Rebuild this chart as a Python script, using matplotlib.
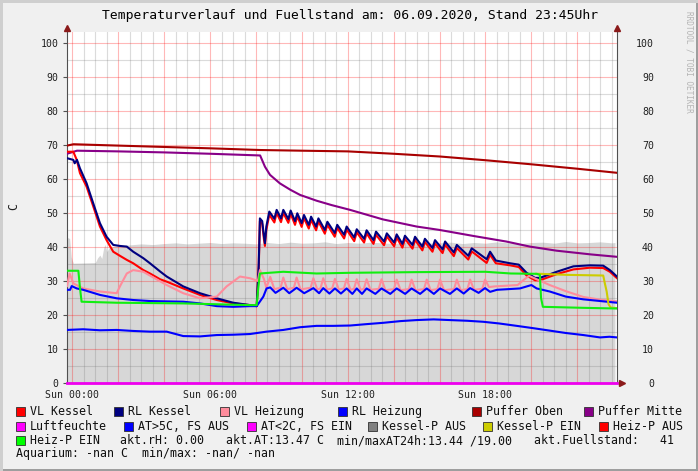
import matplotlib
matplotlib.use("Agg")
import matplotlib.pyplot as plt
from matplotlib.patches import Rectangle
from matplotlib.ticker import MultipleLocator, FuncFormatter

# ---------------- data (hours since Sun 00:00, value) ----------------
puffer_oben = [(-0.235, 69.8), (0.05, 70.2), (1.0, 70.0), (2.0, 69.8), (4.0, 69.4), (6.0, 69.0),
               (8.2, 68.5), (10.0, 68.3), (12.0, 68.1), (14.0, 67.4), (16.0, 66.6), (18.0, 65.5),
               (20.0, 64.3), (22.0, 63.0), (23.73, 61.8)]

puffer_mitte = [(-0.235, 67.4), (0.2, 68.3), (2.0, 68.1), (4.0, 67.8), (6.0, 67.4), (8.18, 66.9),
                (8.39, 63.6), (8.61, 61.2), (9.04, 58.7), (9.5, 56.8), (9.92, 55.3), (10.64, 53.6),
                (11.3, 52.3), (12.1, 50.9), (13.53, 48.1), (15.0, 46.0), (16.0, 45.0), (17.5, 43.2),
                (18.9, 41.6), (19.94, 40.1), (21.1, 38.9), (22.6, 37.8), (23.73, 37.1)]

vl_kessel = [(-0.235, 68.0), (0.04, 68.0), (0.19, 65.6), (0.33, 61.7), (0.62, 57.7), (0.91, 51.9),
             (1.20, 46.0), (1.49, 42.0), (1.78, 38.6), (2.07, 37.4), (2.37, 36.2), (2.65, 35.2),
             (3.09, 33.2), (3.38, 32.2), (3.82, 30.5), (4.11, 29.8), (4.83, 27.8), (5.56, 25.9),
             (6.29, 24.4), (7.01, 23.4), (7.74, 22.9), (8.03, 22.6),
             (8.12, 34.0), (8.17, 47.6), (8.27, 46.8), (8.35, 42.0), (8.39, 40.3), (8.45, 45.0),
             (8.58, 49.5), (8.80, 47.2), (8.90, 50.0), (9.09, 47.3), (9.19, 50.0), (9.41, 47.1),
             (9.51, 49.8), (9.70, 46.5), (9.80, 49.0), (9.99, 45.9), (10.09, 48.5), (10.30, 45.4),
             (10.40, 48.0), (10.62, 44.9), (10.72, 47.5), (11.00, 43.9), (11.11, 46.5), (11.43, 43.0),
             (11.54, 45.6), (11.84, 42.5), (11.95, 45.1), (12.28, 41.7), (12.39, 44.3), (12.71, 41.3),
             (12.82, 44.0), (13.12, 40.9), (13.23, 43.6), (13.58, 40.5), (13.70, 43.1), (14.02, 40.2),
             (14.13, 42.8), (14.38, 39.8), (14.49, 42.4), (14.82, 39.5), (14.93, 42.1), (15.25, 39.0),
             (15.36, 41.5), (15.69, 38.6), (15.80, 41.1), (16.13, 38.2), (16.24, 40.7), (16.62, 37.3),
             (16.75, 39.7), (17.25, 36.3), (17.40, 38.7), (18.05, 35.3), (18.20, 37.7),
             (18.45, 35.2), (19.07, 34.6), (19.45, 34.1), (19.79, 31.6), (20.16, 30.2), (20.37, 30.2),
             (21.10, 32.0), (21.83, 33.4), (22.55, 33.9), (23.13, 33.8), (23.42, 32.7), (23.73, 30.8)]

rl_kessel = [(-0.235, 66.1), (0.04, 65.6), (0.10, 64.6), (0.20, 65.6), (0.33, 63.1), (0.62, 58.7),
             (0.91, 52.8), (1.20, 47.0), (1.49, 43.0), (1.78, 40.6), (2.07, 40.3), (2.37, 40.1),
             (2.65, 38.6), (3.09, 36.7), (3.38, 35.2), (3.82, 32.8), (4.11, 31.3), (4.83, 28.4),
             (5.56, 26.4), (6.29, 24.9), (7.01, 23.6), (7.74, 22.9), (8.03, 22.6),
             (8.12, 35.0), (8.17, 48.4), (8.27, 47.6), (8.35, 43.0), (8.39, 41.1), (8.45, 46.0),
             (8.58, 50.4), (8.80, 48.3), (8.90, 50.9), (9.09, 48.4), (9.19, 50.9), (9.41, 48.2),
             (9.51, 50.7), (9.70, 47.6), (9.80, 49.9), (9.99, 47.0), (10.09, 49.4), (10.30, 46.5),
             (10.40, 48.9), (10.62, 46.0), (10.72, 48.4), (11.00, 45.0), (11.11, 47.4), (11.43, 44.1),
             (11.54, 46.5), (11.84, 43.6), (11.95, 46.0), (12.28, 42.8), (12.39, 45.2), (12.71, 42.4),
             (12.82, 44.9), (13.12, 42.0), (13.23, 44.5), (13.58, 41.6), (13.70, 44.0), (14.02, 41.3),
             (14.13, 43.7), (14.38, 40.9), (14.49, 43.3), (14.82, 40.6), (14.93, 43.0), (15.25, 40.1),
             (15.36, 42.4), (15.69, 39.7), (15.80, 42.0), (16.13, 39.3), (16.24, 41.6), (16.62, 38.4),
             (16.75, 40.6), (17.25, 37.4), (17.40, 39.6), (18.05, 36.4), (18.20, 38.6),
             (18.45, 36.0), (19.07, 35.2), (19.45, 34.8), (19.79, 32.4), (20.16, 30.9), (20.37, 30.9),
             (21.10, 32.7), (21.83, 34.3), (22.55, 34.6), (23.13, 34.5), (23.42, 33.2), (23.73, 31.3)]

vl_heizung = [(-0.235, 28.5), (-0.12, 32.2), (0.04, 29.3), (0.47, 27.8), (1.20, 26.9), (1.93, 26.4),
              (2.07, 28.4), (2.37, 32.2), (2.65, 33.2), (3.09, 32.7), (4.11, 28.8), (4.83, 26.4),
              (5.56, 24.9), (6.29, 25.4), (6.72, 28.4), (7.30, 31.3), (7.74, 30.8), (7.96, 30.3),
              (8.08, 30.0), (8.17, 33.2), (8.35, 30.5), (8.45, 28.0), (8.62, 31.2), (8.80, 27.6),
              (9.07, 28.0), (9.19, 31.0), (9.36, 27.6), (9.65, 28.0), (9.77, 31.0), (9.94, 27.5),
              (10.38, 28.0), (10.50, 30.8), (10.67, 27.5), (10.81, 27.8), (10.93, 30.8), (11.10, 27.5),
              (11.32, 27.8), (11.44, 30.6), (11.61, 27.5), (11.83, 27.8), (11.95, 30.6), (12.12, 27.4),
              (12.27, 27.7), (12.39, 30.5), (12.56, 27.4), (12.70, 27.7), (12.82, 30.5), (12.99, 27.4),
              (13.35, 27.7), (13.47, 30.5), (13.64, 27.3), (14.01, 27.6), (14.13, 30.4), (14.30, 27.3),
              (14.66, 27.6), (14.78, 30.4), (14.95, 27.3), (15.32, 27.6), (15.44, 30.4), (15.61, 27.3),
              (15.90, 27.6), (16.02, 30.4), (16.19, 27.3), (16.63, 27.6), (16.75, 30.4), (16.92, 27.3),
              (17.21, 27.6), (17.33, 30.4), (17.50, 27.4), (17.86, 27.7), (17.98, 30.4), (18.15, 28.2),
              (18.40, 28.4), (19.40, 28.8), (19.70, 30.5), (19.90, 31.5), (20.23, 30.5), (20.80, 28.8),
              (21.50, 27.0), (22.26, 25.3), (23.00, 24.5), (23.73, 24.0)]

rl_heizung = [(-0.235, 27.4), (-0.10, 27.4), (-0.03, 28.5), (0.19, 27.8), (0.47, 27.4), (1.20, 25.9),
              (1.93, 24.9), (2.65, 24.4), (3.38, 24.1), (4.83, 23.9), (5.56, 23.4), (6.29, 22.6),
              (7.01, 22.4), (7.74, 22.6), (8.03, 22.6), (8.32, 25.4), (8.46, 27.8), (8.62, 28.1),
              (8.85, 26.5), (9.19, 28.0), (9.45, 26.4), (9.77, 28.0), (10.10, 26.4), (10.50, 27.9),
              (10.75, 26.4), (10.93, 27.9), (11.20, 26.3), (11.44, 27.8), (11.70, 26.3), (11.95, 27.8),
              (12.20, 26.2), (12.39, 27.8), (12.62, 26.2), (12.82, 27.8), (13.20, 26.2), (13.47, 27.8),
              (13.85, 26.2), (14.13, 27.8), (14.50, 26.2), (14.78, 27.8), (15.15, 26.2), (15.44, 27.8),
              (15.75, 26.2), (16.02, 27.8), (16.45, 26.2), (16.75, 27.8), (17.05, 26.3), (17.33, 27.9),
              (17.70, 26.5), (17.98, 27.9), (18.20, 26.8), (18.50, 27.4), (19.50, 27.8), (20.00, 28.8),
              (20.23, 27.8), (20.80, 26.9), (21.50, 25.4), (22.26, 24.6), (23.00, 24.1), (23.73, 23.6)]

aussentemp = [(-0.235, 15.6), (0.47, 15.8), (1.2, 15.5), (1.93, 15.6), (2.65, 15.3), (3.38, 15.1),
              (4.11, 15.1), (4.83, 13.8), (5.56, 13.7), (6.29, 14.1), (7.01, 14.2), (7.74, 14.4),
              (8.46, 15.1), (9.19, 15.6), (9.92, 16.4), (10.64, 16.8), (11.37, 16.8), (12.10, 16.9),
              (12.8, 17.3), (13.55, 17.7), (14.3, 18.2), (15.0, 18.5), (15.74, 18.7), (16.45, 18.5),
              (17.2, 18.3), (17.90, 18.0), (18.6, 17.5), (19.36, 16.8), (20.1, 16.1), (20.80, 15.4),
              (21.5, 14.7), (22.26, 14.1), (22.99, 13.4), (23.4, 13.6), (23.73, 13.4)]

heizp_ein = [(-0.235, 33.0), (0.26, 33.0), (0.33, 28.0), (0.40, 23.9), (1.93, 23.6), (4.83, 23.4),
             (7.74, 22.9), (8.03, 22.9), (8.10, 28.0), (8.17, 32.2), (9.19, 32.7), (10.64, 32.2),
             (12.10, 32.4), (15.0, 32.6), (18.0, 32.7), (19.1, 32.2), (20.23, 32.1), (20.37, 31.8),
             (20.42, 25.0), (20.50, 22.4), (22.26, 22.1), (23.73, 21.9)]

kesselp_ein = [(20.2, 32.1), (20.37, 32.1), (21.5, 31.8), (23.13, 31.6), (23.20, 29.3), (23.28, 26.9),
               (23.36, 23.2), (23.45, 22.2), (23.73, 22.0)]

luftfeuchte = [(-0.235, 0.0), (23.73, 0.0)]

fuellstand_t = [-0.235, -0.12, -0.05, 0.04, 0.5, 1.0, 1.1, 1.2, 1.28, 1.36, 1.42, 1.5, 1.6, 1.8, 2.0,
                2.5, 3.0, 3.5, 4.0, 4.5, 5.0, 5.5, 6.0, 6.5, 7.0, 7.5, 8.0, 8.5, 9.0, 9.5, 10.0,
                10.5, 11.0, 11.5, 12.0, 12.5, 13.0, 13.5, 14.0, 14.5, 15.0, 15.5, 16.0, 16.5, 17.0,
                17.5, 18.0, 18.5, 19.0, 19.5, 20.0, 20.5, 21.0, 21.5, 22.0, 22.5, 23.0, 23.5, 23.64]
fuellstand_v = [42.8, 42.5, 37.0, 35.2, 35.3, 35.4, 36.8, 37.6, 36.6, 39.6, 40.8, 38.6, 39.8, 40.2, 40.4,
                40.6, 40.9, 40.7, 41.0, 41.2, 40.9, 41.1, 41.3, 41.0, 41.2, 41.1, 40.9, 41.3, 41.0, 41.4,
                41.1, 41.2, 41.5, 41.0, 41.3, 41.1, 41.4, 41.2, 41.0, 41.3, 41.5, 41.1, 41.2, 41.4, 41.0,
                41.3, 41.1, 41.5, 41.2, 41.0, 41.3, 41.4, 41.1, 41.6, 41.2, 41.3, 41.5, 41.2, 41.3]

title = "Temperaturverlauf und Fuellstand am: 06.09.2020, Stand 23:45Uhr"
x_ticks = [0, 6, 12, 18]
x_tick_labels = ["Sun 00:00", "Sun 06:00", "Sun 12:00", "Sun 18:00"]

legend_row1 = [("VL Kessel", "#ff0000"), ("RL Kessel", "#000080"), ("VL Heizung", "#ff8c9c"),
               ("RL Heizung", "#0000ff"), ("Puffer Oben", "#a80000"), ("Puffer Mitte", "#880088")]
legend_row2 = [("Luftfeuchte", "#ff00ff"), ("AT>5C, FS AUS", "#0000ff"), ("AT<2C, FS EIN", "#ff00ff"),
               ("Kessel-P AUS", "#808080"), ("Kessel-P EIN", "#cccc00"), ("Heiz-P AUS", "#ff0000")]
legend_row3 = [("Heiz-P EIN", "#00ff00")]
info_row3 = ["akt.rH: 0.00", "akt.AT:13.47 C", "min/maxAT24h:13.44 /19.00", "akt.Fuellstand:   41"]
info_row4 = "Aquarium: -nan C  min/max: -nan/ -nan"

# ---------------- figure ----------------
W, H = 698, 471
MONO = "DejaVu Sans Mono"
plt.rcParams["font.family"] = MONO

fig = plt.figure(figsize=(W / 100, H / 100), dpi=100)
fig.patch.set_facecolor("#f0f0f0")


def fx(p):
    return p / W


def fy(p):
    return 1 - p / H


# frame
fig.add_artist(Rectangle((0, 0), 1, 2.5 / H, transform=fig.transFigure, color="#9e9e9e", lw=0))
fig.add_artist(Rectangle((1 - 2.5 / W, 0), 2.5 / W, 1, transform=fig.transFigure, color="#9e9e9e", lw=0))
fig.add_artist(Rectangle((0, 1 - 2.5 / H), 1, 2.5 / H, transform=fig.transFigure, color="#cfcfcf", lw=0))
fig.add_artist(Rectangle((0, 0), 2.5 / W, 1, transform=fig.transFigure, color="#cfcfcf", lw=0))

ax = fig.add_axes([fx(67), fy(383), 550 / W, 351 / H])
ax.set_facecolor("white")
ax.set_xlim(-0.235, 23.73)
ax.set_ylim(0, 103.2)

# grid
ax.xaxis.set_major_locator(MultipleLocator(2))
ax.xaxis.set_minor_locator(MultipleLocator(0.5))
ax.yaxis.set_major_locator(MultipleLocator(10))
ax.yaxis.set_minor_locator(MultipleLocator(5))
ax.set_axisbelow(True)
ax.grid(which="minor", color="#707070", alpha=0.25, lw=0.8)
ax.grid(which="major", color="#ff0000", alpha=0.28, lw=0.8)


def fmt_x(v, p):
    for t, lab in zip(x_ticks, x_tick_labels):
        if abs(v - t) < 1e-6:
            return lab
    return ""


ax.xaxis.set_major_formatter(FuncFormatter(fmt_x))
ax.yaxis.set_major_formatter(FuncFormatter(lambda v, p: f"{int(round(v))}" if 0 <= v <= 100 else ""))
ax.tick_params(axis="x", which="both", length=0, pad=5, labelsize=7.1, colors="#202020")
ax.tick_params(axis="y", which="major", length=3, width=0.8, color="#505050", pad=3,
               labelsize=7.1, labelcolor="#202020", direction="out")
ax.tick_params(axis="y", which="minor", length=0)

ax.spines["top"].set_visible(False)
for s in ["left", "right", "bottom"]:
    ax.spines[s].set_color("#505050")
    ax.spines[s].set_linewidth(0.8)

# right labels
ax2 = ax.twinx()
ax2.set_ylim(ax.get_ylim())
ax2.yaxis.set_major_locator(MultipleLocator(10))
ax2.yaxis.set_major_formatter(FuncFormatter(lambda v, p: f"{int(round(v))}" if 0 <= v <= 100 else ""))
ax2.tick_params(axis="y", length=0, pad=26.6, labelsize=7.1, labelcolor="#202020")
for lab in ax2.get_yticklabels():
    lab.set_horizontalalignment("right")
for s in ax2.spines.values():
    s.set_visible(False)
ax2.patch.set_visible(False)


def xs(pairs):
    return [p[0] for p in pairs]


def ys(pairs):
    return [p[1] for p in pairs]


LW = 1.5
ax.fill_between(fuellstand_t, fuellstand_v, 0, color="#d7d7d7", lw=0, zorder=0.3)
ax.plot(xs(puffer_oben), ys(puffer_oben), color="#a80000", lw=LW, zorder=3)
ax.plot(xs(puffer_mitte), ys(puffer_mitte), color="#880088", lw=LW, zorder=3)
ax.plot(xs(vl_kessel), ys(vl_kessel), color="#ff0000", lw=LW, zorder=3)
ax.plot(xs(rl_kessel), ys(rl_kessel), color="#000080", lw=LW, zorder=3.1)
ax.plot(xs(vl_heizung), ys(vl_heizung), color="#ff8c9c", lw=LW, zorder=3.2)
ax.plot(xs(rl_heizung), ys(rl_heizung), color="#0000ff", lw=LW, zorder=3.3)
ax.plot(xs(aussentemp), ys(aussentemp), color="#0000ff", lw=LW, zorder=3.3)
ax.plot(xs(kesselp_ein), ys(kesselp_ein), color="#cccc00", lw=LW, zorder=3.4)
ax.plot(xs(heizp_ein), ys(heizp_ein), color="#10ee10", lw=LW, zorder=3.5)
ax.plot(xs(luftfeuchte), ys(luftfeuchte), color="#ee00ee", lw=2, zorder=4, clip_on=False)

# arrows
arrow_c = "#8b1a1a"
ax.plot([0], [1 + 4 / 351], transform=ax.transAxes, marker="^", ms=5, color=arrow_c, clip_on=False, zorder=5)
ax.plot([1], [1 + 4 / 351], transform=ax.transAxes, marker="^", ms=5, color=arrow_c, clip_on=False, zorder=5)
ax.plot([1 + 5 / 550], [0], transform=ax.transAxes, marker=">", ms=5, color=arrow_c, clip_on=False, zorder=5)

# texts
fig.text(fx(350), fy(16), title, ha="center", va="center", fontsize=9.4, color="#000000")
fig.text(fx(688.5), fy(62), "RRDTOOL / TOBI OETIKER", rotation=270, ha="center", va="center",
         fontsize=5.6, color="#b4b4b4")
fig.text(fx(14), fy(207), "C", rotation=90, ha="center", va="center", fontsize=8.4, color="#202020")

FS = 8.4


def swatch(x, cy, color):
    fig.add_artist(Rectangle((fx(x), fy(cy + 4.5)), 9 / W, 9 / H, transform=fig.transFigure,
                             facecolor=color, edgecolor="#303030", lw=0.6))


row1_x = [16, 114, 220, 338, 472, 584]
row2_x = [16, 124, 247, 368, 483, 599]
for (lab, col), x in zip(legend_row1, row1_x):
    swatch(x, 411.5, col)
    fig.text(fx(x + 14), fy(411.5), lab, ha="left", va="center", fontsize=FS, color="#101010")
for (lab, col), x in zip(legend_row2, row2_x):
    swatch(x, 426, col)
    fig.text(fx(x + 14), fy(426), lab, ha="left", va="center", fontsize=FS, color="#101010")
for (lab, col) in legend_row3:
    swatch(16, 440.5, col)
    fig.text(fx(30), fy(440.5), lab, ha="left", va="center", fontsize=FS, color="#101010")
for txt, x in zip(info_row3, [120, 226, 337, 534]):
    fig.text(fx(x), fy(440.5), txt, ha="left", va="center", fontsize=FS, color="#101010")
fig.text(fx(16), fy(454), info_row4, ha="left", va="center", fontsize=FS, color="#101010")

fig.savefig("out.png", dpi=100, facecolor=fig.get_facecolor())
